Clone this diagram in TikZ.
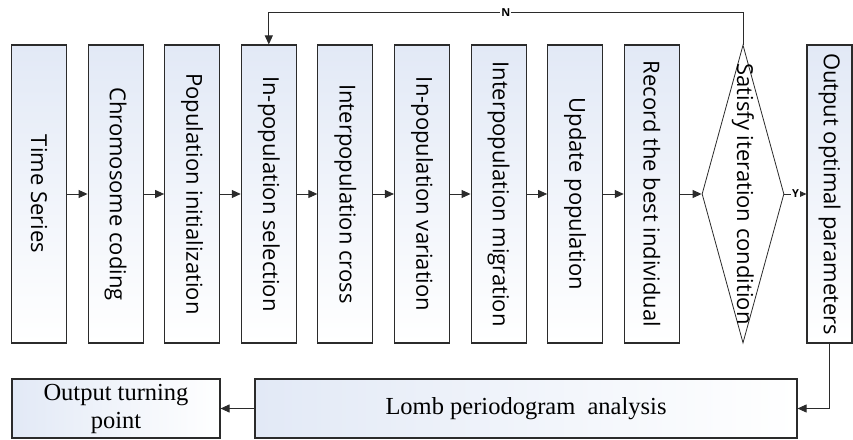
\documentclass[tikz,border=0pt]{standalone}
\usepackage{fontspec}
\usepackage{graphicx}
\setmainfont{Liberation Serif}
\setsansfont{Open Sans}
\usetikzlibrary{arrows.meta,shapes.geometric}
\definecolor{boxtop}{HTML}{E2E9F6}
\definecolor{edge}{HTML}{2B2B2B}
\tikzset{
  vbox/.style={draw=edge, line width=1.1pt, top color=boxtop, bottom color=white,
    minimum width=55pt, minimum height=298pt, inner sep=0pt,
    font=\sffamily\fontsize{22}{26}\selectfont},
  hbox/.style={draw=edge, line width=1.1pt, left color=boxtop, right color=white,
    minimum height=59pt, inner sep=0pt, align=center,
    font=\fontsize{24.5}{28}\selectfont},
  arr/.style={-{Triangle[length=9pt,width=8pt]}, line width=0.9pt, draw=edge},
  tag/.style={fill=white, inner sep=1pt, font=\sffamily\bfseries\fontsize{11}{12}\selectfont}
}
\begin{document}
\begin{tikzpicture}[x=1pt,y=1pt]
\useasboundingbox (0,0) rectangle (853,439);
\node[vbox] (b1) at (39,245) {\rotatebox{-90}{Time Series}};
\node[vbox] (b2) at (115.6,245) {\rotatebox{-90}{Chromosome coding}};
\node[vbox] (b3) at (192.2,245) {\rotatebox{-90}{Population initialization}};
\node[vbox] (b4) at (268.8,245) {\rotatebox{-90}{In-population selection}};
\node[vbox] (b5) at (345.4,245) {\rotatebox{-90}{Interpopulation cross}};
\node[vbox] (b6) at (422,245) {\rotatebox{-90}{In-population variation}};
\node[vbox] (b7) at (498.6,245) {\rotatebox{-90}{Interpopulation migration}};
\node[vbox] (b8) at (575.2,245) {\rotatebox{-90}{Update population}};
\node[vbox] (b9) at (651.8,245) {\rotatebox{-90}{Record the best individual}};
\node[diamond, draw=edge, line width=0.8pt, fill=white, minimum width=82pt,
      minimum height=298pt, inner sep=0pt] (d) at (743,245) {};
\node[font=\sffamily\fontsize{22}{26}\selectfont, inner sep=0pt] (dt) at (743,245)
      {\rotatebox{-90}{Satisfy iteration condition}};
\node[vbox, minimum width=45pt] (b10) at (829.5,245) {\rotatebox{-90}{Output optimal parameters}};
\node[hbox, minimum width=542pt] (lomb) at (526,30.5) {Lomb periodogram\ \ analysis};
\node[hbox, minimum width=208pt] (out) at (116,30.5) {Output turning\\point};

\draw[arr] (b1) -- (b2);
\draw[arr] (b2) -- (b3);
\draw[arr] (b3) -- (b4);
\draw[arr] (b4) -- (b5);
\draw[arr] (b5) -- (b6);
\draw[arr] (b6) -- (b7);
\draw[arr] (b7) -- (b8);
\draw[arr] (b8) -- (b9);
\draw[arr] (b9) -- (d.west);
\draw[arr] (d.east) -- node[tag] {Y} (b10);
\draw[arr] (d.north) -- ++(0,32) -| node[tag, pos=0.25] {N} (b4.north);
\draw[arr] (b10.south) |- (lomb.east);
\draw[arr] (lomb) -- (out);
\end{tikzpicture}
\end{document}
